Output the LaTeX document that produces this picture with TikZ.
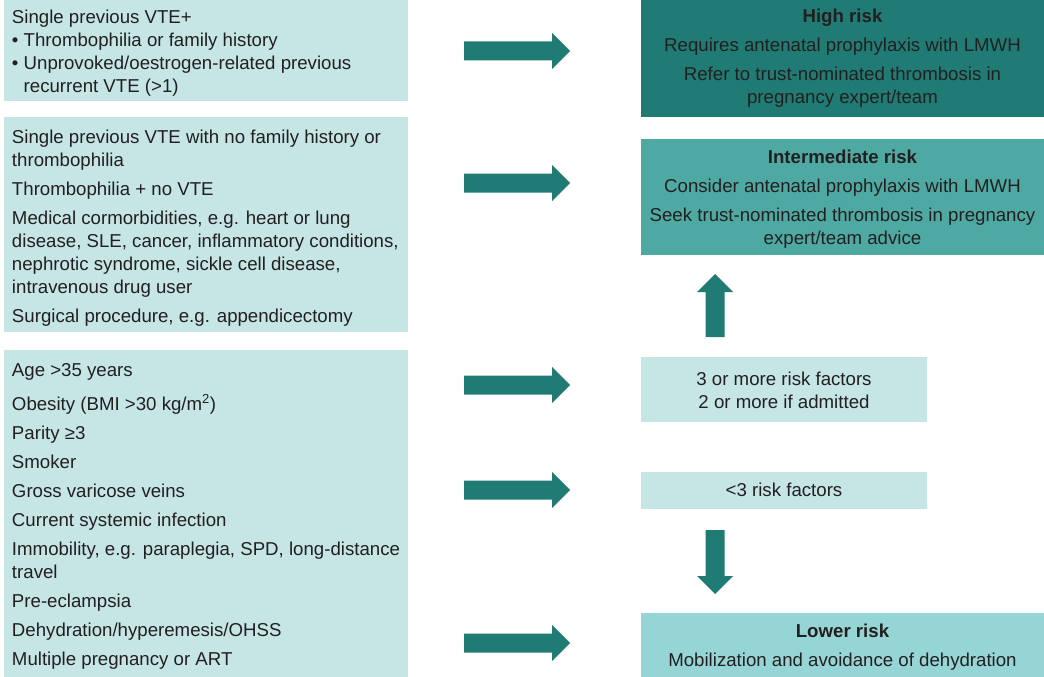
\documentclass[tikz,border=0pt]{standalone}
\usepackage{fontspec}
\setmainfont{Liberation Sans}
\definecolor{lightc}{HTML}{C5E6E5}
\definecolor{highc}{HTML}{1F7B74}
\definecolor{interc}{HTML}{4FA9A3}
\definecolor{lowc}{HTML}{96D5D5}
\definecolor{arrowc}{HTML}{1F7B74}
\definecolor{txtc}{HTML}{231F20}
\tikzset{
  boxbase/.style={rectangle, inner sep=0pt, outer sep=0pt, draw=none, anchor=north west},
  lightbox/.style={boxbase, fill=lightc},
  highbox/.style={boxbase, fill=highc},
  interbox/.style={boxbase, fill=interc},
  lowbox/.style={boxbase, fill=lowc},
  txt/.style={inner sep=0pt, outer sep=0pt, text=txtc, font=\fontsize{18.65}{23}\selectfont},
  blockarrow/.style={fill=arrowc, draw=none}
}
\newcommand\rightblock[1]{\fill[blockarrow] (#1) -- ++(-18,-18) -- ++(0,8.5) -- ++(-88,0) -- ++(0,19) -- ++(88,0) -- ++(0,8.5) -- cycle;}
\begin{document}
\begin{tikzpicture}[x=1pt,y=-1pt]
\useasboundingbox (0,0) rectangle (1044,677);
% left boxes
\node[lightbox, minimum width=404pt, minimum height=101pt] (L1) at (4,0) {};
\node[lightbox, minimum width=404pt, minimum height=215pt] (L2) at (4,117) {};
\node[lightbox, minimum width=404pt, minimum height=327pt] (L3) at (4,350) {};
% right boxes
\node[highbox, minimum width=403pt, minimum height=117pt] (R1) at (641,0) {};
\node[interbox, minimum width=403pt, minimum height=116pt] (R2) at (641,139) {};
\node[lightbox, minimum width=286pt, minimum height=65pt] (R3) at (641,357) {};
\node[lightbox, minimum width=286pt, minimum height=37pt] (R4) at (641,472) {};
\node[lowbox, minimum width=403pt, minimum height=64pt] (R5) at (641,613) {};
% left texts
\node[txt, anchor=base west] (T1) at (12,24) {\parbox[t]{600pt}{\raggedright
Single previous VTE+\\
•\ Thrombophilia or family history\\
•\ Unprovoked/oestrogen-related previous\\
\phantom{•\ }recurrent VTE (>1)}};
\node[txt, anchor=base west] (T2) at (12,143) {\parbox[t]{600pt}{\raggedright
Single previous VTE with no family history or\\
thrombophilia\\[6pt]
Thrombophilia + no VTE\\[6pt]
Medical cormorbidities, e.g. heart or lung\\
disease, SLE, cancer, inflammatory conditions,\\
nephrotic syndrome, sickle cell disease,\\
intravenous drug user\\[6pt]
Surgical procedure, e.g. appendicectomy}};
\node[txt, anchor=base west] (T3) at (12,376) {\parbox[t]{600pt}{\raggedright
Age >35 years\\[11pt]
Obesity (BMI >30 kg/m\textsuperscript{2})\\[6pt]
Parity ≥3\\[6pt]
Smoker\\[6pt]
Gross varicose veins\\[6pt]
Current systemic infection\\[6pt]
Immobility, e.g. paraplegia, SPD, long-distance\\
travel\\[6pt]
Pre-eclampsia\\[6pt]
Dehydration/hyperemesis/OHSS\\[6pt]
Multiple pregnancy or ART}};
% right texts
\node[txt, anchor=base] (U1) at (842.5,23) {\parbox[t]{600pt}{\centering
\textbf{High risk}\\[6pt]
Requires antenatal prophylaxis with LMWH\\[6pt]
Refer to trust-nominated thrombosis in\\
pregnancy expert/team}};
\node[txt, anchor=base] (U2) at (842.5,163) {\parbox[t]{600pt}{\centering
\textbf{Intermediate risk}\\[6pt]
Consider antenatal prophylaxis with LMWH\\[6pt]
Seek trust-nominated thrombosis in pregnancy\\
expert/team advice}};
\node[txt, anchor=base] (U3) at (784,385) {\parbox[t]{600pt}{\centering
3 or more risk factors\\
2 or more if admitted}};
\node[txt, anchor=base] (U4) at (784,496) {<3 risk factors};
\node[txt, anchor=base] (U5) at (842.5,637) {\parbox[t]{600pt}{\centering
\textbf{Lower risk}\\[6pt]
Mobilization and avoidance of dehydration}};
% arrows
\coordinate (A1) at (570,51);
\coordinate (A2) at (570,183);
\coordinate (A3) at (570,385);
\coordinate (A4) at (570,490);
\coordinate (A5) at (570,643);
\rightblock{A1}
\rightblock{A2}
\rightblock{A3}
\rightblock{A4}
\rightblock{A5}
\coordinate (UP) at (715,274);
\fill[blockarrow] (UP) -- ++(18,18) -- ++(-8.5,0) -- ++(0,45) -- ++(-19,0) -- ++(0,-45) -- ++(-8.5,0) -- cycle;
\coordinate (DN) at (715,594);
\fill[blockarrow] (DN) -- ++(18,-18) -- ++(-8.5,0) -- ++(0,-46) -- ++(-19,0) -- ++(0,46) -- ++(-8.5,0) -- cycle;
\end{tikzpicture}
\end{document}
